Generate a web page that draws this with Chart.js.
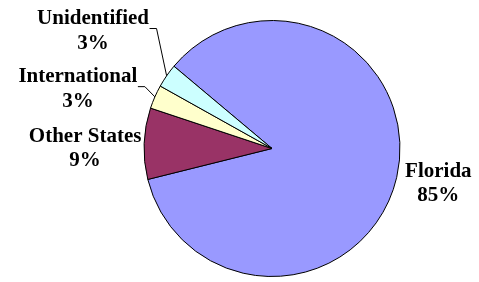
<!DOCTYPE html>
<html>
<head>
<meta charset="utf-8">
<script src="https://cdn.jsdelivr.net/npm/chart.js@4.4.1/dist/chart.umd.min.js"></script>
<style>
  html, body { margin: 0; padding: 0; background: #ffffff; }
  #wrap { width: 479px; height: 282px; }
</style>
</head>
<body>
<div id="wrap"><canvas id="c" width="479" height="282"></canvas></div>
<script>
const categories = ["Florida", "Other States", "International", "Unidentified"];
const shares = [85, 9, 3, 3];
const percentLabels = ["85%", "9%", "3%", "3%"];
const sliceColors = ["#9999FF", "#993366", "#FFFFCC", "#CCFFFF"];

// label placement relative to the slice's outer-edge midpoint (dx, dy of first baseline)
const labelPlacement = [
  { dx: 41.6, dy: -0.6, leader: false },
  { dx: -59, dy: -2, leader: false },
  { dx: -77, dy: -14.7, leader: true },
  { dx: -73.6, dy: -51.8, leader: true }
];

const labelPlugin = {
  id: 'sliceLabels',
  afterDatasetsDraw(chart) {
    const ctx = chart.ctx;
    const meta = chart.getDatasetMeta(0);
    ctx.save();
    ctx.font = 'bold 21px "Liberation Serif", "Times New Roman", serif';
    ctx.fillStyle = '#000000';
    ctx.textAlign = 'center';
    ctx.textBaseline = 'alphabetic';
    meta.data.forEach((arc, i) => {
      const p = arc.getProps(['x', 'y', 'startAngle', 'endAngle', 'outerRadius'], true);
      const mid = (p.startAngle + p.endAngle) / 2;
      const ex = p.x + Math.cos(mid) * p.outerRadius;
      const ey = p.y + Math.sin(mid) * p.outerRadius;
      const pl = labelPlacement[i];
      const cx = ex + pl.dx;
      const by = ey + pl.dy;
      ctx.fillText(categories[i], cx, by);
      ctx.fillText(percentLabels[i], cx, by + 24.5);
      if (pl.leader) {
        const w = ctx.measureText(categories[i]).width;
        const sx = cx + w / 2 + 0.5;
        const sy = by + 4.5;
        ctx.beginPath();
        ctx.strokeStyle = '#000000';
        ctx.lineWidth = 1;
        ctx.moveTo(sx, sy);
        ctx.lineTo(sx + 7, sy);
        ctx.lineTo(ex, ey);
        ctx.stroke();
      }
    });
    ctx.restore();
  }
};

new Chart(document.getElementById('c'), {
  type: 'pie',
  data: {
    labels: categories,
    datasets: [{
      data: shares,
      backgroundColor: sliceColors,
      borderColor: '#000000',
      borderWidth: 1,
      borderAlign: 'center'
    }]
  },
  options: {
    responsive: false,
    animation: false,
    rotation: -50,
    radius: 128,
    layout: { padding: { left: 130, right: 65, top: 15, bottom: 0 } },
    plugins: {
      legend: { display: false },
      tooltip: { enabled: false }
    }
  },
  plugins: [labelPlugin]
});
</script>
</body>
</html>
